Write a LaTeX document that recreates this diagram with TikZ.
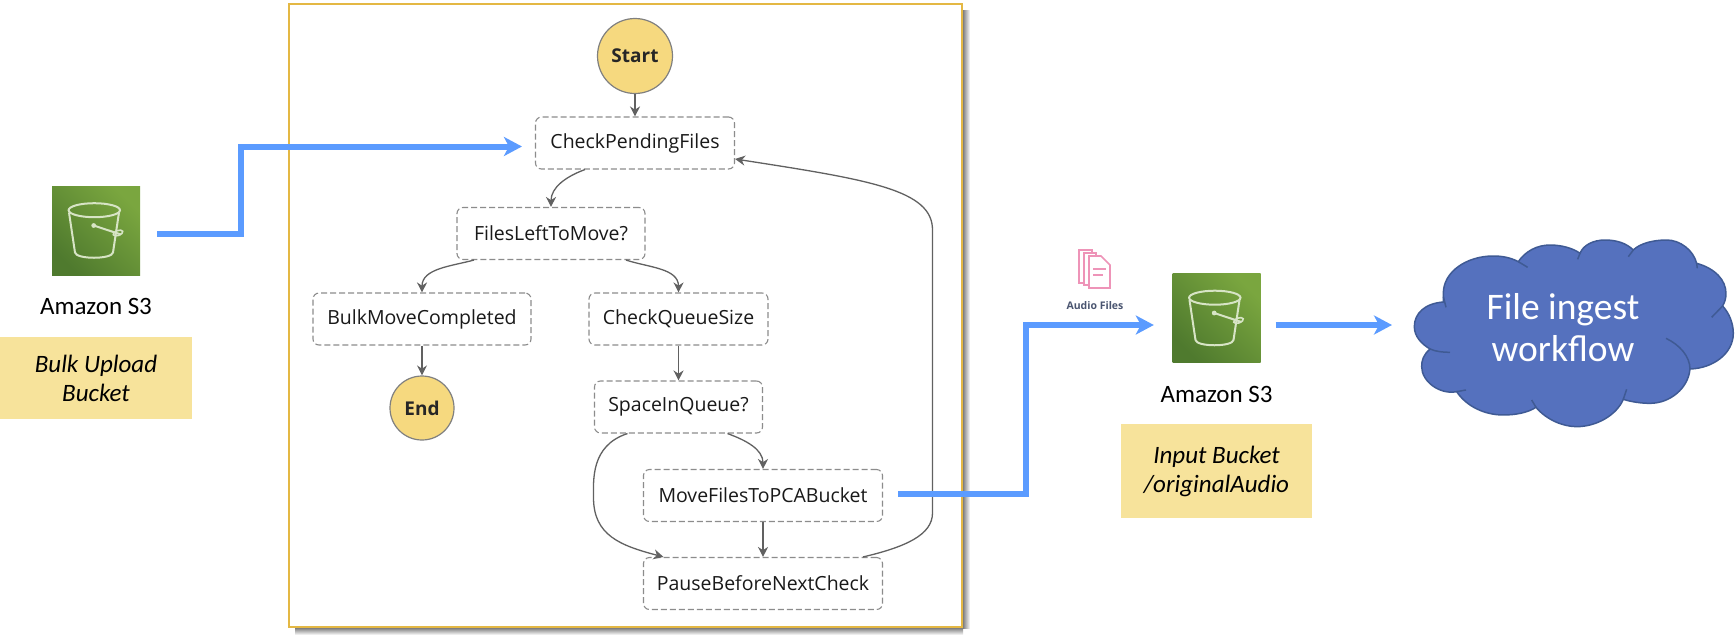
\documentclass[tikz,border=0pt]{standalone}
\usepackage{fontspec}
\setmainfont{Carlito}
\newfontfamily\statefont{Open Sans}
\usetikzlibrary{shapes,arrows,arrows.meta}
\definecolor{goldline}{HTML}{E4B844}
\definecolor{statefill}{HTML}{F6D97F}
\definecolor{notefill}{HTML}{F7E39B}
\definecolor{flowblue}{HTML}{5B9BFF}
\definecolor{cloudblue}{HTML}{5571BE}
\definecolor{cloudedge}{HTML}{3F5A94}
\definecolor{iconlight}{HTML}{7AA63F}
\definecolor{icondark}{HTML}{4F7A2E}
\definecolor{pagepink}{HTML}{EE94B8}
\definecolor{audiotext}{HTML}{4A5570}
\tikzstyle{taskbox} = [rectangle, rounded corners=6pt, minimum height=52pt, text centered, draw=black!45, dash pattern=on 6pt off 3pt, line width=1.1pt, text=black!90, font=\statefont\fontsize{19.5}{22}\selectfont]
\tikzstyle{endpoint} = [circle, text centered, draw=black!50, fill=statefill, line width=1.2pt, inner sep=0pt, text=black!85, font=\statefont\bfseries\fontsize{19}{22}\selectfont]
\tikzstyle{arrow} = [line width=1.3pt, draw=black!62, -{Stealth[length=10pt,width=10pt]}]
\tikzstyle{flowline} = [line width=6pt, draw=flowblue, -{Stealth[length=18pt,width=19pt,inset=5pt]}]
\tikzstyle{notebox} = [rectangle, fill=notefill, align=center, font=\itshape\fontsize{25}{29}\selectfont]
\tikzstyle{bucketicon} = [rectangle, minimum width=88pt, minimum height=89pt, inner sep=0pt, top color=iconlight, bottom color=icondark, shading angle=-45]
\tikzstyle{iconname} = [font=\fontsize{25}{28}\selectfont]
\tikzset{bucketmark/.pic={
  \draw [line width=2pt, draw=white!70!iconlight] (-1.7,-20.3) ellipse (25.7pt and 7pt);
  \draw [line width=2pt, draw=white!70!iconlight] (-27,-18) -- (-21,22) .. controls (-20,29) and (16,29) .. (17,22) -- (23,-18);
  \draw [line width=2pt, draw=white!70!iconlight] (-2.3,-5) -- (25,4);
  \draw [line width=1.6pt, draw=white!70!iconlight, rotate around={20:(22,2.5)}] (22,2.5) ellipse (5pt and 2.5pt);
  \fill [white!70!iconlight] (-2.3,-5) circle (2.4pt);
}}
\begin{document}
\begin{tikzpicture}[x=1pt,y=-1pt,node distance=88pt]
\useasboundingbox (0,0) rectangle (1735,641);
% state machine frame
\shade [left color=black!50, right color=white] (963,10) rectangle (970,628);
\shade [top color=black!50, bottom color=white] (295,628) rectangle (963,635);
\node (frame) at (625.5,315.5) [rectangle, draw=goldline, fill=white, line width=2pt, minimum width=673pt, minimum height=623pt] {};
\node (start) at (635,56) [endpoint, minimum size=75pt] {Start};
\node (check) [taskbox, minimum width=199pt, below of=start, node distance=87pt] {CheckPendingFiles};
\node (files) [taskbox, minimum width=188pt, below of=check, node distance=90.5pt, xshift=-84pt] {FilesLeftToMove?};
\node (bulk) [taskbox, minimum width=218pt, below of=files, node distance=85.5pt, xshift=-129pt] {BulkMoveCompleted};
\node (queue) [taskbox, minimum width=179pt, below of=files, node distance=85.5pt, xshift=127.5pt] {CheckQueueSize};
\node (end) [endpoint, minimum size=64pt, below of=bulk, node distance=89pt] {End};
\node (space) [taskbox, minimum width=168pt, below of=queue, node distance=88pt] {SpaceInQueue?};
\node (move) [taskbox, minimum width=239pt, below of=space, node distance=88.5pt, xshift=84.5pt] {MoveFilesToPCABucket};
\node (pause) [taskbox, minimum width=239pt, below of=move, node distance=88pt] {PauseBeforeNextCheck};
\draw [arrow] (start) -- (check);
\draw [arrow] ([xshift=-50pt]check.south) to[out=200,in=90] (files.north);
\draw [arrow] ([xshift=-77pt]files.south) to[out=195,in=90] (bulk.north);
\draw [arrow] ([xshift=75pt]files.south) to[out=-18,in=90] (queue.north);
\draw [arrow] (bulk) -- (end);
\draw [arrow] (queue) -- (space);
\draw [arrow] ([xshift=49pt]space.south) to[out=-20,in=90] (move.north);
\draw [arrow] ([xshift=-51pt]space.south) .. controls ([shift={(-88,12)}]space.south) and ([shift={(-85,47)}]space.south) .. ([shift={(-85,64)}]space.south) .. controls ([shift={(-85,102)}]space.south) and ([shift={(-58,112)}]space.south) .. ([xshift=-99.5pt]pause.north);
\draw [arrow] (move) -- (pause);
\draw [arrow] ([xshift=100pt]pause.north) .. controls ([shift={(142.5,-10)}]pause.north) and ([shift={(169.5,-22)}]pause.north) .. ([shift={(169.5,-44)}]pause.north) -- ([shift={(169.5,-327)}]pause.north) .. controls ([shift={(169.5,-367)}]pause.north) and ([shift={(107.5,-377)}]pause.north) .. ([yshift=-16pt]check.east);
% left bucket
\node (bucketa) at (96,230.5) [bucketicon] {};
\pic at (bucketa.center) {bucketmark};
\node (namea) [iconname, below of=bucketa, node distance=75.5pt] {Amazon S3};
\node (notea) at (96,378) [notebox, minimum width=192pt, minimum height=82pt] {\raisebox{-2pt}{Bulk Upload}\\\raisebox{-2pt}{Bucket}};
% right bucket
\node (bucketb) at (1216.5,318) [bucketicon] {};
\pic at (bucketb.center) {bucketmark};
\node (nameb) [iconname, below of=bucketb, node distance=76pt] {Amazon S3};
\node (noteb) at (1216.5,471) [notebox, minimum width=191pt, minimum height=94pt] {Input Bucket\\/originalAudio};
% audio files
\node (audio) at (1095,306) [text=audiotext, font=\statefont\bfseries\fontsize{10.5}{12}\selectfont] {Audio Files};
\draw [pagepink, line width=1.6pt, fill=white] (1079,250) -- (1092,250) -- (1092,283) -- (1079,283) -- cycle;
\draw [pagepink, line width=1.6pt, fill=white] (1084,253) -- (1096,253) -- (1096,285) -- (1084,285) -- cycle;
\draw [pagepink, line width=1.6pt, fill=white] (1089,256) -- (1101,256) -- (1110,265) -- (1110,288) -- (1089,288) -- cycle;
\draw [pagepink, line width=1.6pt] (1093,269) -- (1106,269) (1093,275) -- (1103,275);
% cloud
\begin{scope}[shift={(1360,200)},x=0.3333pt,y=-0.3333pt]
\draw [fill=cloudblue, draw=cloudedge, line width=1.5pt]
  (250,306) .. controls (195,310) and (163,340) .. (163,380)
  .. controls (163,410) and (185,432) .. (210,447)
  .. controls (190,465) and (185,480) .. (185,500)
  .. controls (185,545) and (240,585) .. (290,575)
  .. controls (320,620) and (375,645) .. (430,645)
  .. controls (470,645) and (505,637) .. (528,622)
  .. controls (560,660) and (610,680) .. (650,680)
  .. controls (710,680) and (770,645) .. (790,598)
  .. controls (815,606) and (845,610) .. (870,610)
  .. controls (930,610) and (985,565) .. (990,507)
  .. controls (1060,505) and (1120,460) .. (1120,400)
  .. controls (1120,370) and (1108,340) .. (1088,318)
  .. controls (1095,305) and (1098,295) .. (1098,280)
  .. controls (1098,240) and (1065,205) .. (1010,190)
  .. controls (1000,150) and (960,120) .. (920,120)
  .. controls (880,120) and (840,130) .. (820,150)
  .. controls (800,130) and (770,120) .. (735,120)
  .. controls (700,120) and (670,135) .. (660,160)
  .. controls (640,145) and (605,135) .. (570,135)
  .. controls (530,135) and (495,155) .. (475,185)
  .. controls (450,172) and (425,168) .. (400,168)
  .. controls (320,168) and (250,215) .. (250,280)
  -- cycle;
\draw [draw=cloudedge, line width=1.5pt]
  (250,290) -- (258,322)
  (210,447) .. controls (228,455) and (250,457) .. (270,457)
  (290,575) -- (318,570)
  (528,622) -- (515,600)
  (790,598) -- (800,568)
  (990,507) .. controls (990,470) and (960,435) .. (918,415)
  (1088,318) -- (1055,352)
  (1010,190) -- (1012,205)
  (820,150) -- (805,170)
  (660,160) -- (653,178)
  (475,185) -- (503,202);
\end{scope}
\node (ingest) at (1563,328) [align=center, text=white, font=\fontsize{37.5}{42}\selectfont] {File ingest\\workflow};
\coordinate (cloudleft) at (1392,325);
% blue flows
\draw [flowline] ([shift={(17,3.5)}]bucketa.east) -- ++(84,0) |- ([shift={(-13,3.5)}]check.west);
\draw [flowline] ([shift={(15,-1.5)}]move.east) -- ++(128,0) |- ([shift={(-18.5,7)}]bucketb.west);
\draw [flowline] ([shift={(15,7)}]bucketb.east) -- (cloudleft);
\end{tikzpicture}
\end{document}
